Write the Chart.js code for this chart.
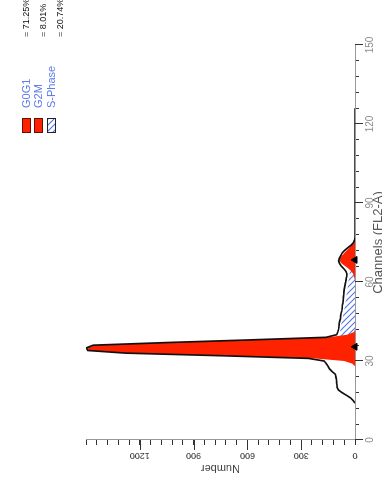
<!DOCTYPE html>
<html>
<head>
<meta charset="utf-8">
<script src="https://cdn.jsdelivr.net/npm/chart.js@4.4.0/dist/chart.umd.min.js"></script>
<style>
  html, body { margin: 0; padding: 0; background: #fff; overflow: hidden; width: 382px; height: 485px; }
  /* the plot is printed turned a quarter turn counter-clockwise */
  #wrap { position: absolute; left: 0; top: 0; width: 485px; height: 386px;
          transform-origin: 0 0; transform: translate(0px, 485px) rotate(-90deg); }
</style>
</head>
<body>
<div id="wrap"><canvas id="histo" width="485" height="386"></canvas></div>
<script>
// ---- data ----
const chTickLabels = [0, 30, 60, 90, 120, 150];
const countTickLabels = [0, 300, 600, 900, 1200];

// measured histogram, one value per channel starting at channel 14
const rawFirstChannel = 14;
const rawCounts = [
    0, 10, 25, 48, 72, 92, 100, 101, 103, 104, 107, 110, 128, 142, 150, 160,
    172, 260, 740, 1280, 1490, 1498, 1460, 1050, 590, 160, 102, 96, 92, 90,
    89, 86, 82, 80, 78, 74, 72, 71, 68, 66, 65, 63, 62, 61, 58, 55,
    52, 50, 47, 45, 50, 62, 76, 86, 91, 87, 80, 72, 58, 40, 22, 8,
    2, 0, 0, 0, 0, 0, 0, 0, 0, 0, 0, 0, 0, 0, 0, 0,
    0, 0, 0, 0, 0, 0, 0, 0, 0, 0, 0, 0, 0, 0, 0, 0,
    0, 0, 0, 0, 0, 0, 0, 0, 0, 0, 0, 0, 0, 0, 0, 0,
    0, 0, 0
];

// model components
const g1FirstChannel = 28;
const g1Counts = [0, 15, 60, 230, 720, 1260, 1485, 1495, 1450, 1040, 580, 150, 40, 5, 0];
const g2FirstChannel = 60;
const g2Counts = [0, 2, 5, 10, 20, 35, 55, 74, 85, 84, 74, 60, 46, 32, 20, 9, 3, 0];
const sFirstChannel = 34;
const sCounts = [
    0, 20, 45, 65, 78, 84, 84, 83, 81, 79, 76, 73, 70, 67, 64, 61, 58, 56,
    53, 51, 49, 47, 45, 43, 41, 39, 37, 35, 33, 30, 27, 23, 18, 12, 7, 3, 0
];
const peakChannels = [35.4, 68.4];

const legendNames = ['G0G1', 'G2M', 'S-Phase'];
const legendPercents = ['= 71.25%', '= 8.01%', '= 20.74%'];

// ---- helpers ----
const RED = '#ff2200';
const FONT = "'Liberation Sans', Arial, sans-serif";

function toPoints(first, values) {
    return values.map((v, i) => ({ x: first + i, y: v }));
}

function makeHatch(ctx) {
    const n = 6;
    const p = document.createElement('canvas');
    p.width = n; p.height = n;
    const c = p.getContext('2d');
    c.fillStyle = '#fff';
    c.fillRect(0, 0, n, n);
    c.strokeStyle = '#4f74ee';
    c.lineWidth = 1.1;
    c.beginPath();
    c.moveTo(0, 0); c.lineTo(n, n);
    c.moveTo(-1, n - 1); c.lineTo(1, n + 1);
    c.moveTo(n - 1, -1); c.lineTo(n + 1, 1);
    c.stroke();
    return ctx.createPattern(p, 'repeat');
}

// rotated count labels, long major ticks, legend and percentages
const extras = {
    id: 'extras',
    afterDraw(chart) {
        const { ctx } = chart;
        const xs = chart.scales.x, ys = chart.scales.y;
        const area = chart.chartArea;
        ctx.save();

        ctx.strokeStyle = '#333';
        ctx.lineWidth = 1;
        ctx.beginPath();
        chTickLabels.forEach(v => {
            const x = Math.round(xs.getPixelForValue(v)) + 0.5;
            ctx.moveTo(x, area.bottom); ctx.lineTo(x, area.bottom + 8);
        });
        countTickLabels.forEach(v => {
            if (v === 0) return;
            const y = Math.round(ys.getPixelForValue(v)) + 0.5;
            ctx.moveTo(area.left, y); ctx.lineTo(area.left - 10, y);
        });
        ctx.stroke();

        ctx.fillStyle = '#333';
        ctx.font = '9px ' + FONT;
        ctx.textAlign = 'center';
        ctx.textBaseline = 'middle';
        countTickLabels.forEach(v => {
            const y = ys.getPixelForValue(v);
            ctx.save();
            ctx.translate(area.left - 15, y);
            ctx.rotate(-Math.PI / 2);
            ctx.fillText(String(v), 0, 0);
            ctx.restore();
        });

        // legend
        const hatch = makeHatch(ctx);
        const rowTop = [22, 34, 47];
        ctx.textAlign = 'left';
        ctx.textBaseline = 'alphabetic';
        legendNames.forEach((name, i) => {
            ctx.fillStyle = i < 2 ? RED : hatch;
            ctx.fillRect(352, rowTop[i], 15, 9);
            ctx.strokeStyle = i < 2 ? '#661100' : '#222';
            ctx.strokeRect(352.5, rowTop[i] + 0.5, 14, 8);
            ctx.fillStyle = '#5a78f0';
            ctx.font = '11px ' + FONT;
            ctx.fillText(name, 377, rowTop[i] + 8);
        });
        const pctBase = [29, 46, 63];
        ctx.fillStyle = '#111';
        ctx.font = '9px ' + FONT;
        legendPercents.forEach((t, i) => ctx.fillText(t, 448, pctBase[i]));

        ctx.restore();
    }
};

// ---- chart ----
const canvas = document.getElementById('histo');
const ctx2d = canvas.getContext('2d');

new Chart(canvas, {
    type: 'line',
    data: {
        datasets: [
            {
                label: 'Data',
                data: toPoints(rawFirstChannel, rawCounts),
                borderColor: '#111',
                borderWidth: 1.7,
                pointRadius: 0,
                fill: false,
                order: 0
            },
            {
                label: 'Peaks',
                data: peakChannels.map(c => ({ x: c, y: 0 })),
                showLine: false,
                pointStyle: 'triangle',
                pointRadius: 4,
                backgroundColor: '#000',
                borderColor: '#000',
                clip: false,
                order: 1
            },
            {
                label: 'G0G1',
                data: toPoints(g1FirstChannel, g1Counts),
                backgroundColor: RED,
                borderColor: RED,
                borderWidth: 0,
                pointRadius: 0,
                fill: 'origin',
                order: 2
            },
            {
                label: 'G2M',
                data: toPoints(g2FirstChannel, g2Counts),
                backgroundColor: RED,
                borderColor: RED,
                borderWidth: 0,
                pointRadius: 0,
                fill: 'origin',
                order: 3
            },
            {
                label: 'S-Phase',
                data: toPoints(sFirstChannel, sCounts),
                backgroundColor: makeHatch(ctx2d),
                borderColor: '#6a8cf2',
                borderWidth: 0,
                pointRadius: 0,
                fill: 'origin',
                order: 4
            }
        ]
    },
    options: {
        responsive: false,
        devicePixelRatio: 1,
        animation: false,
        layout: { padding: { left: 0, right: 45, top: 86, bottom: 0 } },
        plugins: {
            legend: { display: false },
            tooltip: { enabled: false }
        },
        scales: {
            x: {
                type: 'linear',
                min: 0,
                max: 150,
                afterFit: s => { s.height = 31; },
                border: { display: true, color: '#999', width: 1 },
                grid: { drawOnChartArea: false, drawTicks: true, tickLength: 4, color: '#333', tickColor: '#333' },
                ticks: {
                    stepSize: 6,
                    autoSkip: false,
                    minRotation: 0,
                    maxRotation: 0,
                    padding: 5,
                    color: '#8a8a8a',
                    font: { family: FONT, size: 10 },
                    callback: v => chTickLabels.includes(v) ? String(v) : ''
                },
                title: {
                    display: true,
                    text: 'Channels (FL2-A)',
                    color: '#555',
                    font: { family: FONT, size: 13 },
                    padding: { top: 0, bottom: 0 }
                }
            },
            y: {
                type: 'linear',
                min: 0,
                max: 1500,
                afterFit: s => { s.width = 45; },
                border: { display: true, color: '#999', width: 1 },
                grid: { drawOnChartArea: false, drawTicks: true, tickLength: 5, color: '#333', tickColor: '#333' },
                ticks: { stepSize: 60, display: false },
                title: {
                    display: true,
                    text: 'Number',
                    color: '#444',
                    font: { family: FONT, size: 11 },
                    padding: { top: 10, bottom: 0 }
                }
            }
        }
    },
    plugins: [extras]
});
</script>
</body>
</html>
